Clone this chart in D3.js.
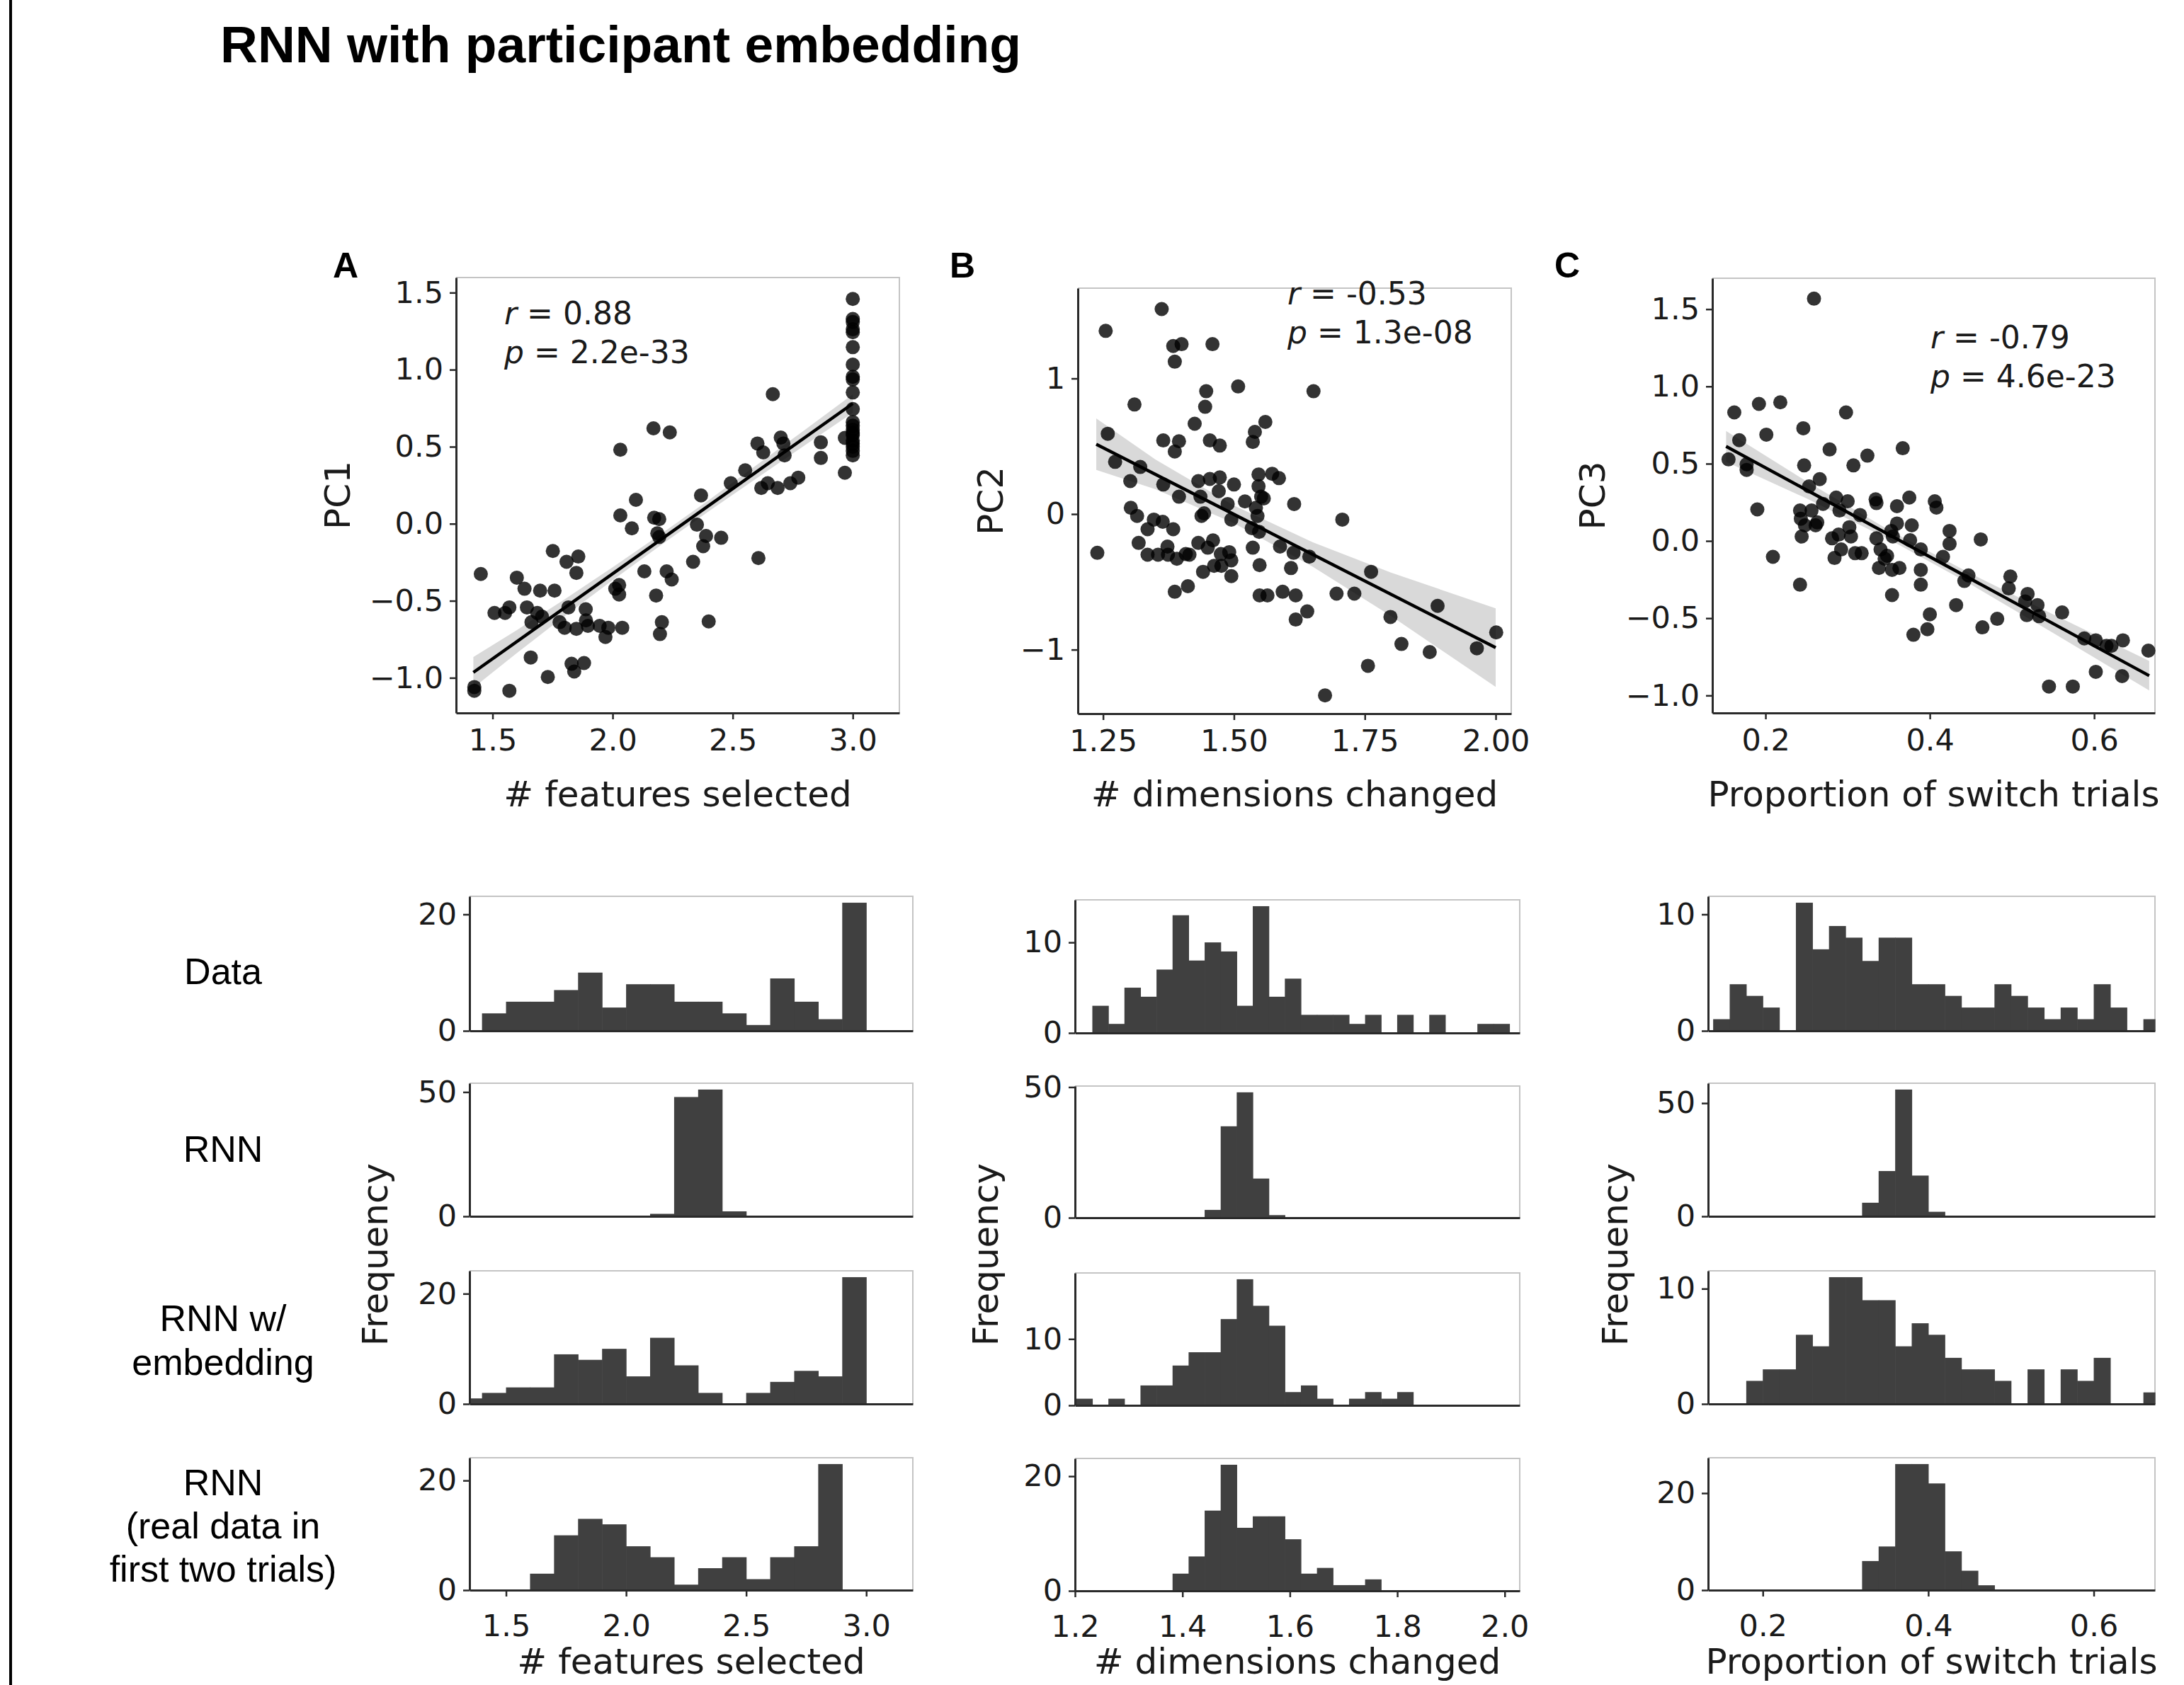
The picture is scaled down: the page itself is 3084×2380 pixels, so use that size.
<!DOCTYPE html>
<html>
<head>
<meta charset="utf-8">
<script src="https://cdn.jsdelivr.net/npm/d3@7"></script>
<style>
  body { margin: 0; background: #fff; }
</style>
</head>
<body>
<div id="chart"></div>
<script>
// # Scatter data: [behavioural measure, PC score] per participant.
const pc1Points = [
  [1.451,-0.326],[1.424,-1.060],[1.424,-1.084],[1.570,-1.084],[1.508,-0.579],[1.552,-0.579],[1.570,-0.543],
  [1.601,-0.350],[1.633,-0.422],[1.643,-0.543],[1.662,-0.639],[1.659,-0.868],[1.698,-0.434],[1.686,-0.579],
  [1.706,-0.603],[1.730,-0.995],[1.751,-0.177],[1.758,-0.434],[1.779,-0.639],[1.800,-0.675],[1.808,-0.247],
  [1.816,-0.543],[1.849,-0.319],[1.857,-0.213],[1.829,-0.909],[1.840,-0.959],[1.849,-0.682],[1.888,-0.555],
  [1.889,-0.627],[1.897,-0.663],[1.881,-0.904],[1.946,-0.663],[1.970,-0.735],[1.982,-0.675],[2.011,-0.422],
  [2.027,-0.398],[2.027,-0.459],[2.032,0.480],[2.032,0.054],[2.040,-0.675],[2.080,-0.030],[2.097,0.155],
  [2.132,-0.309],[2.170,0.619],[2.173,0.039],[2.181,-0.466],[2.194,0.030],[2.186,-0.062],[2.194,-0.086],
  [2.205,-0.639],[2.197,-0.716],[2.225,-0.309],[2.238,0.593],[2.246,-0.362],[2.335,-0.247],[2.351,-0.006],
  [2.368,0.184],[2.377,-0.146],[2.389,-0.079],[2.400,-0.634],[2.452,-0.091],[2.492,0.263],[2.552,0.347],
  [2.603,0.521],[2.607,-0.223],[2.619,0.232],[2.627,0.463],[2.646,0.263],[2.667,0.841],[2.687,0.232],
  [2.700,0.559],[2.711,0.521],[2.716,0.444],[2.740,0.263],[2.773,0.299],[2.867,0.528],[2.867,0.427],
  [2.967,0.331],[2.967,0.557],
  [3.0,1.459],[3.0,1.329],[3.0,1.310],[3.0,1.262],[3.0,1.243],[3.0,1.146],[3.0,1.033],[3.0,0.954],
  [3.0,0.937],[3.0,0.852],[3.0,0.744],[3.0,0.660],[3.0,0.636],[3.0,0.610],[3.0,0.588],[3.0,0.576],
  [3.0,0.540],[3.0,0.521],[3.0,0.500],[3.0,0.473],[3.0,0.444]
]
const pc2Points = [
  [1.239,-0.286],[1.255,1.351],[1.259,0.592],[1.273,0.385],[1.302,0.243],[1.303,0.046],[1.310,0.808],
  [1.315,-0.014],[1.321,0.347],[1.318,-0.213],[1.335,-0.112],[1.335,-0.300],[1.347,-0.041],[1.355,-0.300],
  [1.362,1.512],[1.364,-0.057],[1.365,0.543],[1.365,0.218],[1.373,-0.240],[1.374,-0.300],[1.384,-0.112],
  [1.384,1.239],[1.387,1.124],[1.387,-0.573],[1.387,0.461],[1.391,-0.330],[1.395,0.537],[1.395,0.128],
  [1.400,1.253],[1.408,-0.295],[1.412,-0.532],[1.415,-0.300],[1.425,0.666],[1.432,0.243],[1.432,-0.213],
  [1.436,0.128],[1.438,-0.014],[1.441,-0.426],[1.443,0.005],[1.445,0.791],[1.447,0.906],[1.450,-0.248],
  [1.454,0.543],[1.454,0.259],[1.459,1.253],[1.460,-0.194],[1.462,-0.382],[1.471,0.169],[1.473,0.270],
  [1.473,0.505],[1.475,-0.295],[1.476,-0.382],[1.488,0.074],[1.491,-0.281],[1.495,-0.041],[1.495,-0.341],
  [1.495,-0.458],[1.500,0.218],[1.508,0.941],[1.521,0.093],[1.534,-0.104],[1.536,-0.248],[1.536,0.532],
  [1.540,0.606],[1.542,0.046],[1.545,-0.014],[1.547,0.292],[1.547,0.205],[1.548,-0.131],[1.549,-0.377],
  [1.549,-0.600],[1.552,0.128],[1.557,0.115],[1.560,0.679],[1.564,-0.600],[1.573,0.297],[1.586,0.265],
  [1.588,-0.240],[1.593,-0.573],[1.609,-0.398],[1.614,-0.286],[1.615,0.074],[1.618,-0.600],[1.618,-0.778],
  [1.640,-0.718],[1.644,-0.314],[1.652,0.906],[1.674,-1.337],[1.696,-0.587],[1.707,-0.041],[1.730,-0.587],
  [1.762,-0.426],[1.756,-1.119],[1.799,-0.759],[1.820,-0.958],[1.874,-1.018],[1.889,-0.677],[1.964,-0.990],
  [2.001,-0.873]
]
const pc3Points = [
  [0.155,0.528],[0.162,0.832],[0.168,0.652],[0.177,0.460],[0.177,0.496],[0.192,0.887],[0.190,0.204],
  [0.201,0.688],[0.209,-0.103],[0.218,0.897],[0.242,-0.283],[0.242,0.197],[0.243,0.144],[0.244,0.029],
  [0.246,0.729],[0.247,0.489],[0.248,0.101],[0.253,0.353],[0.256,0.197],[0.259,1.568],[0.261,0.101],
  [0.263,0.120],[0.266,0.400],[0.270,0.240],[0.278,0.592],[0.281,0.017],[0.284,-0.110],[0.286,0.281],
  [0.289,0.041],[0.290,0.197],[0.292,-0.055],[0.298,0.832],[0.300,0.257],[0.302,0.089],[0.304,0.029],
  [0.307,0.489],[0.309,-0.079],[0.315,0.168],[0.317,-0.079],[0.324,0.552],[0.334,0.269],[0.335,0.245],
  [0.335,0.017],[0.338,-0.175],[0.340,-0.055],[0.345,-0.115],[0.348,-0.096],[0.353,0.065],[0.354,-0.350],
  [0.354,-0.187],[0.355,0.029],[0.360,0.113],[0.360,0.225],[0.363,-0.175],[0.367,0.600],[0.375,0.281],
  [0.376,0.005],[0.378,0.101],[0.380,-0.607],[0.389,-0.055],[0.389,-0.187],[0.389,-0.283],[0.397,-0.571],
  [0.400,-0.475],[0.406,0.257],[0.408,0.216],[0.416,-0.103],[0.424,0.065],[0.424,-0.019],[0.432,-0.415],
  [0.442,-0.259],[0.447,-0.223],[0.462,0.010],[0.464,-0.559],[0.482,-0.504],[0.496,-0.307],[0.498,-0.230],
  [0.516,-0.391],[0.519,-0.343],[0.518,-0.480],[0.531,-0.415],[0.533,-0.487],[0.561,-0.463],[0.545,-0.942],
  [0.574,-0.942],[0.588,-0.631],[0.602,-0.643],[0.602,-0.847],[0.615,-0.679],[0.621,-0.679],[0.635,-0.643],
  [0.634,-0.875],[0.666,-0.710]
]

// # Regression fits and confidence bands.
const pc1Fit = [[1.42, -0.965], [3.0, 0.78]]
const pc1BandX  = [1.42, 1.6, 1.8, 2.0, 2.2, 2.4, 2.6, 2.8, 3.0]
const pc1BandLo = [-1.065, -0.841, -0.60, -0.366, -0.14, 0.081, 0.295, 0.509, 0.72]
const pc1BandHi = [-0.865, -0.691, -0.49, -0.282, -0.068, 0.153, 0.381, 0.609, 0.84]

const pc2Fit = [[1.237, 0.515], [2.0, -0.985]]
const pc2BandX  = [1.237, 1.35, 1.5, 1.65, 1.8, 2.0]
const pc2BandLo = [0.325, 0.183, -0.067, -0.387, -0.752, -1.275]
const pc2BandHi = [0.705, 0.403, 0.063, -0.207, -0.432, -0.695]

const pc3Fit = [[0.152, 0.612], [0.667, -0.872]]
const pc3BandX  = [0.152, 0.25, 0.35, 0.45, 0.55, 0.667]
const pc3BandLo = [0.512, 0.275, 0.011, -0.282, -0.595, -0.968]
const pc3BandHi = [0.712, 0.385, 0.071, -0.212, -0.475, -0.776]

// # Histogram counts (rows: Data, RNN, RNN w/ embedding, RNN real first trials).
const featureBinStart = 1.3, featureBinWidth = 0.1
const featuresData  = [0, 3, 5, 5, 7, 10, 4, 8, 8, 5, 5, 3, 1, 9, 5, 2, 22]
const featuresRNN   = [0, 0, 0, 0, 0, 0, 0, 0, 1, 48, 51, 2, 0, 0, 0, 0, 0]
const featuresEmbed = [1, 2, 3, 3, 9, 8, 10, 5, 12, 7, 2, 0, 2, 4, 6, 5, 23]
const featuresReal  = [0, 0, 0, 3, 10, 13, 12, 8, 6, 1, 4, 6, 2, 6, 8, 23, 0]

const dimBinStart = 1.2024, dimBinWidth = 0.02987
const dimsData  = [0, 3, 1, 5, 4, 7, 13, 8, 10, 9, 3, 14, 4, 6, 2, 2, 2, 1, 2, 0, 2, 0, 2, 0, 0, 1, 1]
const dimsRNN   = [0, 0, 0, 0, 0, 0, 0, 0, 3, 35, 48, 15, 1, 0, 0, 0, 0, 0, 0, 0, 0, 0, 0, 0, 0, 0, 0]
const dimsEmbed = [1, 0, 1, 0, 3, 3, 6, 8, 8, 13, 19, 15, 12, 2, 3, 1, 0, 1, 2, 1, 2, 0, 0, 0, 0, 0, 0]
const dimsReal  = [0, 0, 0, 0, 0, 0, 3, 6, 14, 22, 11, 13, 13, 9, 3, 4, 1, 1, 2, 0, 0, 0, 0, 0, 0, 0, 0]

const switchBinStart = 0.14, switchBinWidth = 0.02
const switchData  = [1, 4, 3, 2, 0, 11, 7, 9, 8, 6, 8, 8, 4, 4, 3, 2, 2, 4, 3, 2, 1, 2, 1, 4, 2, 0, 1]
const switchRNN   = [0, 0, 0, 0, 0, 0, 0, 0, 0, 6, 20, 56, 18, 2, 0, 0, 0, 0, 0, 0, 0, 0, 0, 0, 0, 0, 0]
const switchEmbed = [0, 0, 2, 3, 3, 6, 5, 11, 11, 9, 9, 5, 7, 6, 4, 3, 3, 2, 0, 3, 0, 3, 2, 4, 0, 0, 1]
const switchReal  = [0, 0, 0, 0, 0, 0, 0, 0, 0, 6, 9, 26, 26, 22, 8, 4, 1, 0, 0, 0, 0, 0, 0, 0, 0, 0, 0]

// # Tick values and labels.
const featureTicks = [1.5, 2.0, 2.5, 3.0]
const dimScatterTicks = [1.25, 1.50, 1.75, 2.00]
const dimHistTicks = [1.2, 1.4, 1.6, 1.8, 2.0]
const switchTicks = [0.2, 0.4, 0.6]
const pc1Ticks = [-1.0, -0.5, 0.0, 0.5, 1.0, 1.5]
const pc2Ticks = [-1, 0, 1]
const pc3Ticks = [-1.0, -0.5, 0.0, 0.5, 1.0, 1.5]
const rowLabels = [['Data'], ['RNN'], ['RNN w/', 'embedding'], ['RNN', '(real data in', 'first two trials)']]

const W = 3084, H = 2380
const MPL_FONT = 'DejaVu Sans, sans-serif'
const ARIAL = 'Liberation Sans, Arial, sans-serif'
const INK = '#1a1a1a'
const TICK_SIZE = 43, LABEL_SIZE = 50


// # Mount svg.
let svg = d3.select('#chart')
    .append('svg')
    .attr('width', W)
    .attr('height', H)
    .style('display', 'block')
svg.append('rect').attr('width', W).attr('height', H).attr('fill', '#fff')

// # Slide frame on the left.
svg.append('line')
    .attr('x1', 15).attr('x2', 15).attr('y1', 0).attr('y2', H)
    .attr('stroke', '#000').attr('stroke-width', 4)

svg.append('text')
    .text('RNN with participant embedding')
    .attr('x', 311).attr('y', 88)
    .attr('font-family', ARIAL).attr('font-weight', 'bold')
    .attr('font-size', 73).attr('fill', '#000')
    .attr('textLength', 1131).attr('lengthAdjust', 'spacingAndGlyphs')


// # Light top/right spines.
function frame(g, box) {
    g.append('path')
        .attr('d', `M${box.left},${box.top}H${box.right}V${box.bottom}`)
        .attr('fill', 'none').attr('stroke', '#c4c4c4').attr('stroke-width', 2)
}

function styleAxis(sel, size) {
    sel.select('.domain').attr('stroke', '#2a2a2a').attr('stroke-width', 3)
    sel.selectAll('.tick line').attr('stroke', '#2a2a2a').attr('stroke-width', 2.5)
    sel.selectAll('.tick text')
        .attr('fill', INK).attr('font-size', size).attr('font-family', MPL_FONT)
}

// # Scatter with regression line and CI band.
function scatterPanel(svg, cfg) {
    let {points, fit, bandX, bandLo, bandHi, xDomain, yDomain, box,
            xTicks, xFormat, yTicks, yFormat} = cfg
    let x = d3.scaleLinear().domain(xDomain).range([box.left, box.right])
    let y = d3.scaleLinear().domain(yDomain).range([box.bottom, box.top])
    let g = svg.append('g')
    frame(g, box)

    g.append('g').selectAll('circle')
        .data(points)
        .join('circle')
        .attr('cx', d => x(d[0]))
        .attr('cy', d => y(d[1]))
        .attr('r', 10)
        .attr('fill', '#000')
        .attr('fill-opacity', 0.8)

    g.append('path')
        .datum(d3.zip(bandX, bandLo, bandHi))
        .attr('d', d3.area().x(d => x(d[0])).y0(d => y(d[1])).y1(d => y(d[2])))
        .attr('fill', '#000').attr('fill-opacity', 0.15)

    g.append('path')
        .datum(fit)
        .attr('d', d3.line().x(d => x(d[0])).y(d => y(d[1])))
        .attr('fill', 'none').attr('stroke', '#000').attr('stroke-width', 4.5)

    g.append('g')
        .attr('transform', `translate(0,${box.bottom})`)
        .call(d3.axisBottom(x).tickValues(xTicks).tickFormat(d3.format(xFormat))
            .tickSize(9).tickSizeOuter(0).tickPadding(13))
        .call(s => styleAxis(s, TICK_SIZE))
    g.append('g')
        .attr('transform', `translate(${box.left},0)`)
        .call(d3.axisLeft(y).tickValues(yTicks).tickFormat(d3.format(yFormat))
            .tickSize(9).tickSizeOuter(0).tickPadding(9))
        .call(s => styleAxis(s, TICK_SIZE))

    // # Labels.
    g.append('text')
        .text(cfg.xLabel)
        .attr('x', (box.left + box.right) / 2).attr('y', 1139)
        .attr('text-anchor', 'middle')
        .attr('font-family', MPL_FONT).attr('font-size', LABEL_SIZE).attr('fill', INK)
    g.append('text')
        .text(cfg.yLabel)
        .attr('transform', `translate(${cfg.yLabelX},${(box.top + box.bottom) / 2}) rotate(-90)`)
        .attr('text-anchor', 'middle')
        .attr('font-family', MPL_FONT).attr('font-size', LABEL_SIZE).attr('fill', INK)
    g.append('text')
        .text(cfg.letter)
        .attr('x', cfg.letterX).attr('y', 392)
        .attr('font-family', ARIAL).attr('font-weight', 'bold')
        .attr('font-size', 50).attr('fill', '#000')

    // # r / p annotation.
    let stats = [['r', ' = ' + cfg.r], ['p', ' = ' + cfg.p]]
    stats.forEach((s, i) => {
        let t = g.append('text')
            .attr('x', cfg.statX).attr('y', cfg.statY + i * 55)
            .attr('font-family', MPL_FONT).attr('font-size', 44).attr('fill', INK)
        t.append('tspan').text(s[0]).attr('font-style', 'italic')
        t.append('tspan').text(s[1])
    })
}

// # Histogram row.
function histPanel(svg, cfg) {
    let {counts, binStart, binWidth, xDomain, box, yTicks, xTicks, xFormat} = cfg
    let x = d3.scaleLinear().domain(xDomain).range([box.left, box.right]).clamp(true)
    let y = d3.scaleLinear().domain([0, d3.max(counts) * 1.05]).range([box.bottom, box.top])
    let g = svg.append('g')
    frame(g, box)

    let bins = counts.map((n, i) => ({x0: binStart + i * binWidth, x1: binStart + (i + 1) * binWidth, n: n}))
    g.append('g').selectAll('rect')
        .data(bins.filter(b => b.n > 0))
        .join('rect')
        .attr('x', b => x(b.x0))
        .attr('width', b => Math.max(0, x(b.x1) - x(b.x0) + 0.6))
        .attr('y', b => y(b.n))
        .attr('height', b => y(0) - y(b.n))
        .attr('fill', '#404040')

    let bottom = d3.axisBottom(x).tickSize(9).tickSizeOuter(0).tickPadding(25)
    if (xTicks) bottom.tickValues(xTicks).tickFormat(d3.format(xFormat))
    else bottom.tickValues([])
    g.append('g')
        .attr('transform', `translate(0,${box.bottom})`)
        .call(bottom)
        .call(s => styleAxis(s, TICK_SIZE))
    g.append('g')
        .attr('transform', `translate(${box.left},0)`)
        .call(d3.axisLeft(y).tickValues(yTicks).tickFormat(d3.format('d'))
            .tickSize(9).tickSizeOuter(0).tickPadding(9))
        .call(s => styleAxis(s, TICK_SIZE))
}


// # Top row: scatters.
let scatterPanels = [
    {points: pc1Points, fit: pc1Fit, bandX: pc1BandX, bandLo: pc1BandLo, bandHi: pc1BandHi,
        xDomain: [1.348, 3.194], yDomain: [-1.228, 1.598],
        box: {left: 644, right: 1270, top: 392, bottom: 1007},
        xTicks: featureTicks, xFormat: '.1f', yTicks: pc1Ticks, yFormat: '.1f',
        xLabel: '# features selected', yLabel: 'PC1', yLabelX: 494,
        letter: 'A', letterX: 470, r: '0.88', p: '2.2e-33', statX: 712, statY: 458},
    {points: pc2Points, fit: pc2Fit, bandX: pc2BandX, bandLo: pc2BandLo, bandHi: pc2BandHi,
        xDomain: [1.2018, 2.0297], yDomain: [-1.472, 1.666],
        box: {left: 1522, right: 2134, top: 407, bottom: 1008},
        xTicks: dimScatterTicks, xFormat: '.2f', yTicks: pc2Ticks, yFormat: 'd',
        xLabel: '# dimensions changed', yLabel: 'PC2', yLabelX: 1416,
        letter: 'B', letterX: 1341, r: '-0.53', p: '1.3e-08', statX: 1818, statY: 430},
    {points: pc3Points, fit: pc3Fit, bandX: pc3BandX, bandLo: pc3BandLo, bandHi: pc3BandHi,
        xDomain: [0.1353, 0.674], yDomain: [-1.113, 1.70],
        box: {left: 2418, right: 3043, top: 393, bottom: 1007},
        xTicks: switchTicks, xFormat: '.1f', yTicks: pc3Ticks, yFormat: '.1f',
        xLabel: 'Proportion of switch trials', yLabel: 'PC3', yLabelX: 2266,
        letter: 'C', letterX: 2195, r: '-0.79', p: '4.6e-23', statX: 2726, statY: 492}
]
scatterPanels.forEach(p => scatterPanel(svg, p))


// # Histogram grid.
let histColumns = [
    {rows: [featuresData, featuresRNN, featuresEmbed, featuresReal],
        binStart: featureBinStart, binWidth: featureBinWidth,
        xDomain: [1.348, 3.194], left: 663, right: 1289,
        tops: [1266, 1530, 1795, 2059], bottoms: [1456, 1718, 1983, 2246],
        yTicks: [[0, 20], [0, 50], [0, 20], [0, 20]],
        xTicks: featureTicks, xFormat: '.1f', xLabel: '# features selected', freqX: 547},
    {rows: [dimsData, dimsRNN, dimsEmbed, dimsReal],
        binStart: dimBinStart, binWidth: dimBinWidth,
        xDomain: [1.2, 2.028], left: 1518, right: 2146,
        tops: [1271, 1534, 1798, 2060], bottoms: [1459, 1720, 1985, 2247],
        yTicks: [[0, 10], [0, 50], [0, 10], [0, 20]],
        xTicks: dimHistTicks, xFormat: '.1f', xLabel: '# dimensions changed', freqX: 1409},
    {rows: [switchData, switchRNN, switchEmbed, switchReal],
        binStart: switchBinStart, binWidth: switchBinWidth,
        xDomain: [0.1339, 0.674], left: 2412, right: 3043,
        tops: [1266, 1530, 1795, 2059], bottoms: [1456, 1718, 1983, 2246],
        yTicks: [[0, 10], [0, 50], [0, 10], [0, 20]],
        xTicks: switchTicks, xFormat: '.1f', xLabel: 'Proportion of switch trials', freqX: 2298}
]

histColumns.forEach(col => {
    col.rows.forEach((counts, i) => {
        histPanel(svg, {
            counts: counts, binStart: col.binStart, binWidth: col.binWidth,
            xDomain: col.xDomain,
            box: {left: col.left, right: col.right, top: col.tops[i], bottom: col.bottoms[i]},
            yTicks: col.yTicks[i],
            xTicks: i == col.rows.length - 1 ? col.xTicks : null,
            xFormat: col.xFormat
        })
    })
    // # Bottom axis label sits at the lower edge of the slide.
    svg.append('text')
        .text(col.xLabel)
        .attr('x', (col.left + col.right) / 2).attr('y', 2364)
        .attr('text-anchor', 'middle')
        .attr('font-family', MPL_FONT).attr('font-size', LABEL_SIZE).attr('fill', INK)
    svg.append('text')
        .text('Frequency')
        .attr('transform', `translate(${col.freqX},1772) rotate(-90)`)
        .attr('text-anchor', 'middle')
        .attr('font-family', MPL_FONT).attr('font-size', LABEL_SIZE).attr('fill', INK)
})

// # Row labels on the left.
let rowBaselines = [[1390], [1641], [1880, 1942], [2112, 2173, 2234]]
rowLabels.forEach((lines, i) => {
    lines.forEach((line, j) => {
        svg.append('text')
            .text(line)
            .attr('x', 315).attr('y', rowBaselines[i][j])
            .attr('text-anchor', 'middle')
            .attr('font-family', ARIAL).attr('font-size', 52).attr('fill', '#000')
    })
})
</script>
</body>
</html>
